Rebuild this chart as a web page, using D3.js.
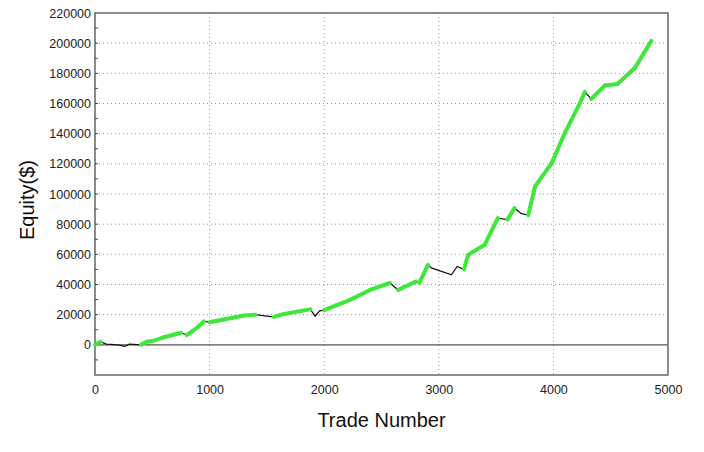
<!DOCTYPE html>
<html>
<head>
<meta charset="utf-8">
<style>
  body { margin: 0; background: #fff; }
  svg { font-family: 'Liberation Sans', Arial, sans-serif; }
  .grid line { stroke: #999; stroke-dasharray: 1,3; }
  .axis text { font-size: 12.5px; fill: #222; }
  .axis .domain { display: none; }
</style>
</head>
<body>
<svg width="704" height="452"></svg>
<script src="https://d3js.org/d3.v7.min.js"></script>
<script>
// trade number / equity
const trades = [0, 50, 100, 200, 260, 300, 400, 450, 500, 600, 700, 750, 800, 850, 900, 950, 1000,
  1100, 1200, 1300, 1400, 1500, 1560, 1650, 1800, 1880, 1920, 1960, 2000, 2100, 2225, 2400, 2574,
  2645, 2800, 2830, 2906, 2935, 3110, 3160, 3220, 3255, 3400, 3515, 3600, 3660, 3720, 3780, 3840,
  3985, 4100, 4215, 4275, 4330, 4450, 4560, 4710, 4855];
const equity = [0, 2000, 500, 0, -1000, 500, 0, 2000, 2500, 5000, 7000, 8000, 6500, 9000, 12000, 15500, 15000,
  16500, 18000, 19500, 20000, 19000, 18500, 20500, 22500, 23500, 19000, 22500, 23000, 26000, 29800, 36400, 41000,
  36400, 42000, 41000, 53000, 51000, 46400, 52000, 50000, 59600, 66300, 84000, 83000, 90700, 87000, 86000, 105000,
  120500, 140500, 157700, 167700, 163000, 172000, 173000, 183500, 201500];
const xTicks = [0, 1000, 2000, 3000, 4000, 5000];
const yTicks = [0, 20000, 40000, 60000, 80000, 100000, 120000, 140000, 160000, 180000, 200000, 220000];

const svg = d3.select("svg");
const m = { left: 95, right: 668, top: 13, bottom: 375 };

const x = d3.scaleLinear().domain([0, 5000]).range([m.left, m.right]);
const y = d3.scaleLinear().domain([-20000, 220000]).range([m.bottom, m.top]);

// grid
svg.append("g").attr("class", "grid")
  .selectAll("line").data(xTicks.slice(1, -1)).join("line")
  .attr("x1", d => x(d)).attr("x2", d => x(d)).attr("y1", m.top).attr("y2", m.bottom);
svg.append("g").attr("class", "grid")
  .selectAll("line").data(yTicks.slice(1, -1)).join("line")
  .attr("x1", m.left).attr("x2", m.right).attr("y1", d => y(d)).attr("y2", d => y(d));

// zero line
svg.append("line").attr("x1", m.left).attr("x2", m.right).attr("y1", y(0)).attr("y2", y(0))
  .attr("stroke", "#555").attr("stroke-width", 1.2);

// frame
svg.append("rect").attr("x", m.left).attr("y", m.top).attr("width", m.right - m.left).attr("height", m.bottom - m.top)
  .attr("fill", "none").attr("stroke", "#666").attr("stroke-width", 1.5);

// axes
svg.append("g").attr("class", "axis").attr("transform", `translate(${m.left},0)`)
  .call(d3.axisLeft(y).tickValues(yTicks).tickSize(0).tickPadding(4).tickFormat(d3.format("d")));
svg.append("g").attr("class", "axis").attr("transform", `translate(0,${m.bottom})`)
  .call(d3.axisBottom(x).tickValues(xTicks).tickSize(0).tickPadding(10).tickFormat(d3.format("d")));

// minor ticks on left axis
svg.append("g").selectAll("line").data(d3.range(-10000, 220000, 10000)).join("line")
  .attr("x1", m.left).attr("x2", m.left + 3).attr("y1", d => y(d)).attr("y2", d => y(d))
  .attr("stroke", "#444");

const data = trades.map((t, i) => ({ t, v: equity[i] }));
const line = d3.line().x(d => x(d.t)).y(d => y(d.v));

svg.append("path").datum(data).attr("d", line)
  .attr("fill", "none").attr("stroke", "#111").attr("stroke-width", 1.2);

// new-high segments in green
let runMax = -Infinity;
const highs = [];
data.forEach((d, i) => {
  if (i > 0 && d.v >= runMax) highs.push([data[i - 1], d]);
  runMax = Math.max(runMax, d.v);
});
svg.append("g").selectAll("path").data(highs).join("path")
  .attr("d", line).attr("fill", "none").attr("stroke", "#3ee83a")
  .attr("stroke-width", 4).attr("stroke-linecap", "round");

// titles
svg.append("text").attr("x", (m.left + m.right) / 2).attr("y", 427).attr("text-anchor", "middle")
  .attr("font-size", 20).attr("fill", "#111").text("Trade Number");
svg.append("text").attr("transform", `translate(34,${(m.top + m.bottom) / 2 + 6}) rotate(-90)`)
  .attr("text-anchor", "middle").attr("font-size", 20).attr("fill", "#111").text("Equity($)");
</script>
</body>
</html>
